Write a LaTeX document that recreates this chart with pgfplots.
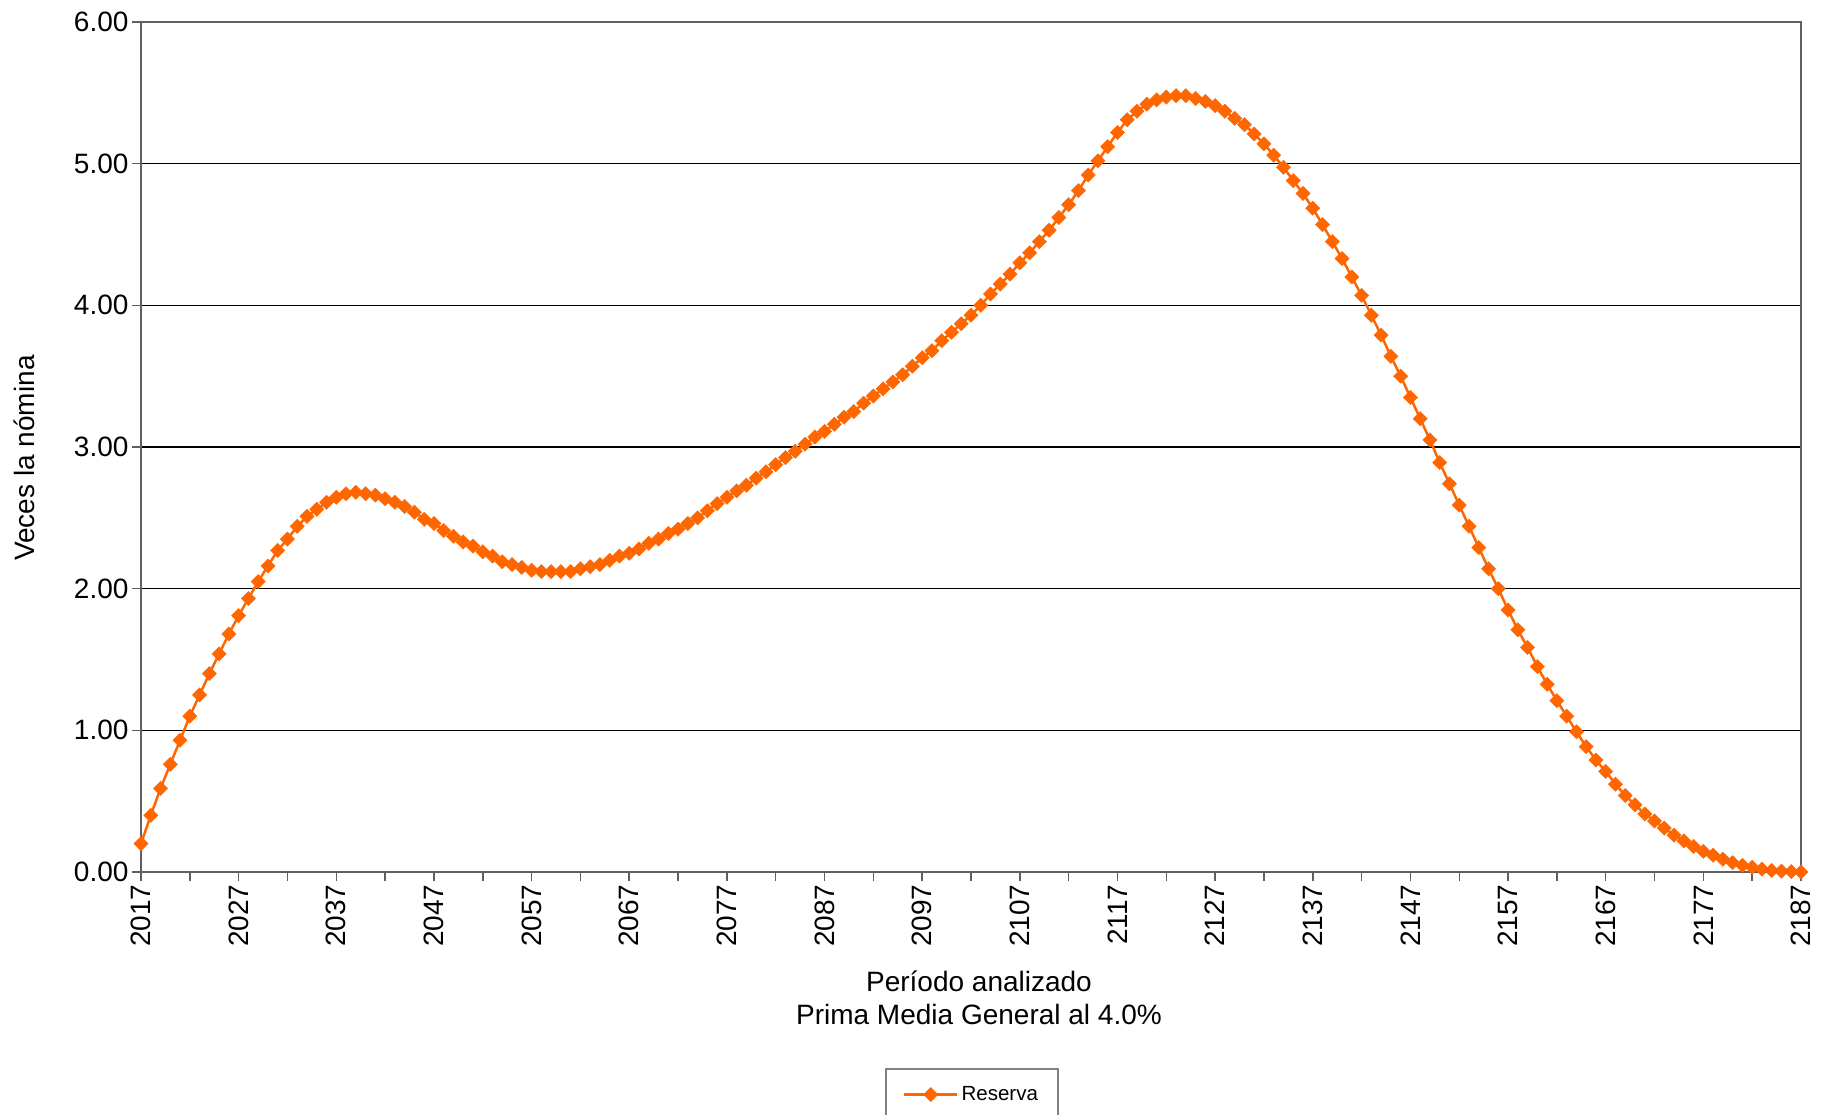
\documentclass[border=0pt]{standalone}
\usepackage{fontspec}
\setmainfont{Liberation Sans}
\usepackage{pgfplots}
\pgfplotsset{compat=1.18}
\definecolor{serie}{HTML}{FF6600}
\definecolor{frame}{HTML}{606060}
\pgfplotstableread{
year val
2017 0.20
2018 0.40
2019 0.59
2020 0.76
2021 0.93
2022 1.10
2023 1.25
2024 1.40
2025 1.54
2026 1.68
2027 1.81
2028 1.93
2029 2.05
2030 2.16
2031 2.27
2032 2.35
2033 2.44
2034 2.51
2035 2.56
2036 2.61
2037 2.645
2038 2.67
2039 2.68
2040 2.67
2041 2.66
2042 2.635
2043 2.61
2044 2.58
2045 2.54
2046 2.49
2047 2.46
2048 2.41
2049 2.37
2050 2.33
2051 2.30
2052 2.26
2053 2.23
2054 2.19
2055 2.17
2056 2.15
2057 2.13
2058 2.12
2059 2.12
2060 2.12
2061 2.12
2062 2.14
2063 2.155
2064 2.17
2065 2.20
2066 2.23
2067 2.25
2068 2.28
2069 2.32
2070 2.35
2071 2.39
2072 2.42
2073 2.46
2074 2.50
2075 2.55
2076 2.60
2077 2.645
2078 2.69
2079 2.73
2080 2.78
2081 2.825
2082 2.875
2083 2.925
2084 2.97
2085 3.02
2086 3.07
2087 3.11
2088 3.16
2089 3.21
2090 3.25
2091 3.31
2092 3.36
2093 3.41
2094 3.46
2095 3.51
2096 3.57
2097 3.63
2098 3.68
2099 3.75
2100 3.81
2101 3.87
2102 3.93
2103 4.00
2104 4.08
2105 4.15
2106 4.22
2107 4.30
2108 4.37
2109 4.45
2110 4.53
2111 4.62
2112 4.71
2113 4.81
2114 4.92
2115 5.02
2116 5.12
2117 5.22
2118 5.31
2119 5.37
2120 5.42
2121 5.45
2122 5.47
2123 5.48
2124 5.48
2125 5.46
2126 5.44
2127 5.41
2128 5.37
2129 5.32
2130 5.275
2131 5.21
2132 5.14
2133 5.06
2134 4.975
2135 4.88
2136 4.79
2137 4.685
2138 4.57
2139 4.45
2140 4.33
2141 4.20
2142 4.07
2143 3.93
2144 3.79
2145 3.64
2146 3.50
2147 3.35
2148 3.20
2149 3.05
2150 2.89
2151 2.74
2152 2.59
2153 2.44
2154 2.29
2155 2.14
2156 2.00
2157 1.85
2158 1.71
2159 1.585
2160 1.45
2161 1.325
2162 1.21
2163 1.10
2164 0.99
2165 0.885
2166 0.79
2167 0.71
2168 0.62
2169 0.54
2170 0.475
2171 0.41
2172 0.36
2173 0.31
2174 0.26
2175 0.22
2176 0.18
2177 0.146
2178 0.118
2179 0.09
2180 0.066
2181 0.047
2182 0.033
2183 0.02
2184 0.011
2185 0.006
2186 0.003
2187 0.0
}\reserva
\begin{document}
\begin{tikzpicture}
\path[use as bounding box] (0pt,0pt) rectangle (1828pt,-1115pt);
\begin{axis}[
  at={(141pt,-22pt)}, anchor=north west,
  scale only axis, width=1660pt, height=850pt,
  xmin=2017, xmax=2187, ymin=0, ymax=6,
  clip=false,
  axis line style={draw=frame, line width=1.8pt},
  tick pos=left, tick align=outside,
  major tick length=9pt, minor tick length=9pt,
  tick style={draw=frame, line width=1.5pt},
  xtick={2017,2027,...,2187},
  minor xtick={2022,2032,...,2182},
  ytick={0,1,2,3,4,5,6},
  ymajorgrids,
  grid style={draw=black, line width=1.2pt},
  tick label style={font=\fontsize{28}{28}\selectfont},
  yticklabel style={/pgf/number format/.cd, fixed, fixed zerofill, precision=2, assume math mode=true},
  xticklabel style={rotate=90, anchor=east, /pgf/number format/1000 sep={}, /pgf/number format/assume math mode=true},
  ylabel={Veces la nómina},
  ylabel style={at={(axis description cs:-0.0705,0.487)}, anchor=center, font=\fontsize{28}{34}\selectfont},
  xlabel={Período analizado\\Prima Media General al 4.0\%},
  xlabel style={at={(axis description cs:0.5048,-0.1165)}, anchor=north, align=center, inner sep=0pt, font=\fontsize{28}{33}\selectfont},
  legend style={at={(axis description cs:0.5006,-0.2306)}, anchor=north,
    draw=gray, line width=1.5pt, inner xsep=17pt, inner ysep=14pt,
    font=\fontsize{20.5}{24}\selectfont, nodes={inner xsep=3pt, inner ysep=4pt}},
  legend image code/.code={\draw[mark repeat=2,mark phase=2] plot coordinates {(0pt,0pt) (26.5pt,0pt) (53pt,0pt)};},
]
\addplot[color=serie, line width=2.5pt, mark=square*, mark size=5pt,
  mark options={rotate=45, solid, fill=serie, draw=serie, line width=0.5pt}]
  table[x=year, y=val] {\reserva};
\addlegendentry{Reserva}
\end{axis}
\end{tikzpicture}
\end{document}
